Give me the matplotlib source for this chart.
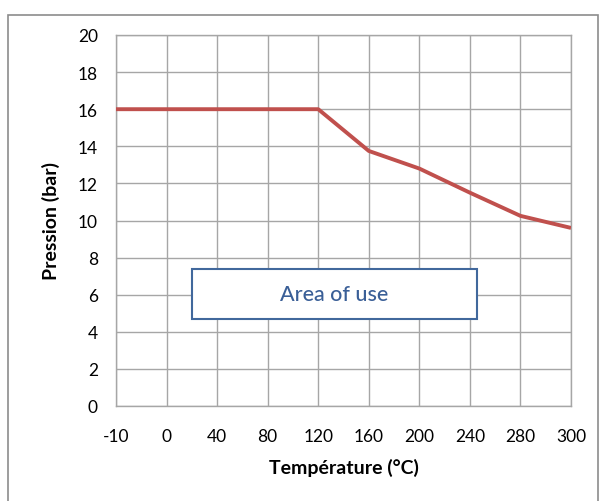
import matplotlib
matplotlib.use("Agg")
import matplotlib.pyplot as plt
from matplotlib.patches import Rectangle

categories = ["-10", "0", "40", "80", "120", "160", "200", "240", "280", "300"]
pressure = [16, 16, 16, 16, 16, 13.75, 12.8, 11.5, 10.25, 9.6]
y_ticks = [0, 2, 4, 6, 8, 10, 12, 14, 16, 18, 20]

plt.rcParams['font.family'] = ['Lato', 'DejaVu Sans']

fig = plt.figure(figsize=(6.03, 5.02), dpi=100)
fig.patches.append(Rectangle((8/603, -0.05), (598-8)/603, 1.05 - 16/502,
                             transform=fig.transFigure, fill=False,
                             edgecolor="#8c8c8c", linewidth=1.2))
ax = fig.add_axes([116/603, (502-407)/502, (571-116)/603, (407-36)/502])

x = list(range(len(categories)))
ax.plot(x, pressure, color="#c0504d", linewidth=2.8, solid_capstyle="butt", zorder=3)

ax.set_xlim(0, len(categories) - 1)
ax.set_ylim(0, 20)
ax.set_xticks(x)
ax.set_xticklabels(categories)
ax.set_yticks(y_ticks)
ax.grid(True, color="#a6a6a6", linewidth=1.0)
ax.set_axisbelow(True)
for s in ax.spines.values():
    s.set_color("#a6a6a6")
    s.set_linewidth(1.0)
ax.tick_params(length=0, labelsize=12.5, colors="#000000")
ax.tick_params(axis="y", pad=13)
ax.tick_params(axis="x", pad=16)

ax.set_xlabel("Température (°C)", fontsize=14, fontweight="bold", labelpad=10)
ax.set_ylabel("Pression (bar)", fontsize=14, fontweight="bold", labelpad=13)

ax.add_patch(Rectangle((1.5, 4.69), 7.14 - 1.5, 7.38 - 4.69, facecolor="white",
                       edgecolor="#41689c", linewidth=1.5, zorder=4))
ax.text((1.5 + 7.14) / 2, (4.69 + 7.38) / 2, "Area of use", ha="center", va="center",
        fontsize=15.5, color="#3a5f97", zorder=5, fontweight="medium")

fig.savefig("out.png", dpi=100)
